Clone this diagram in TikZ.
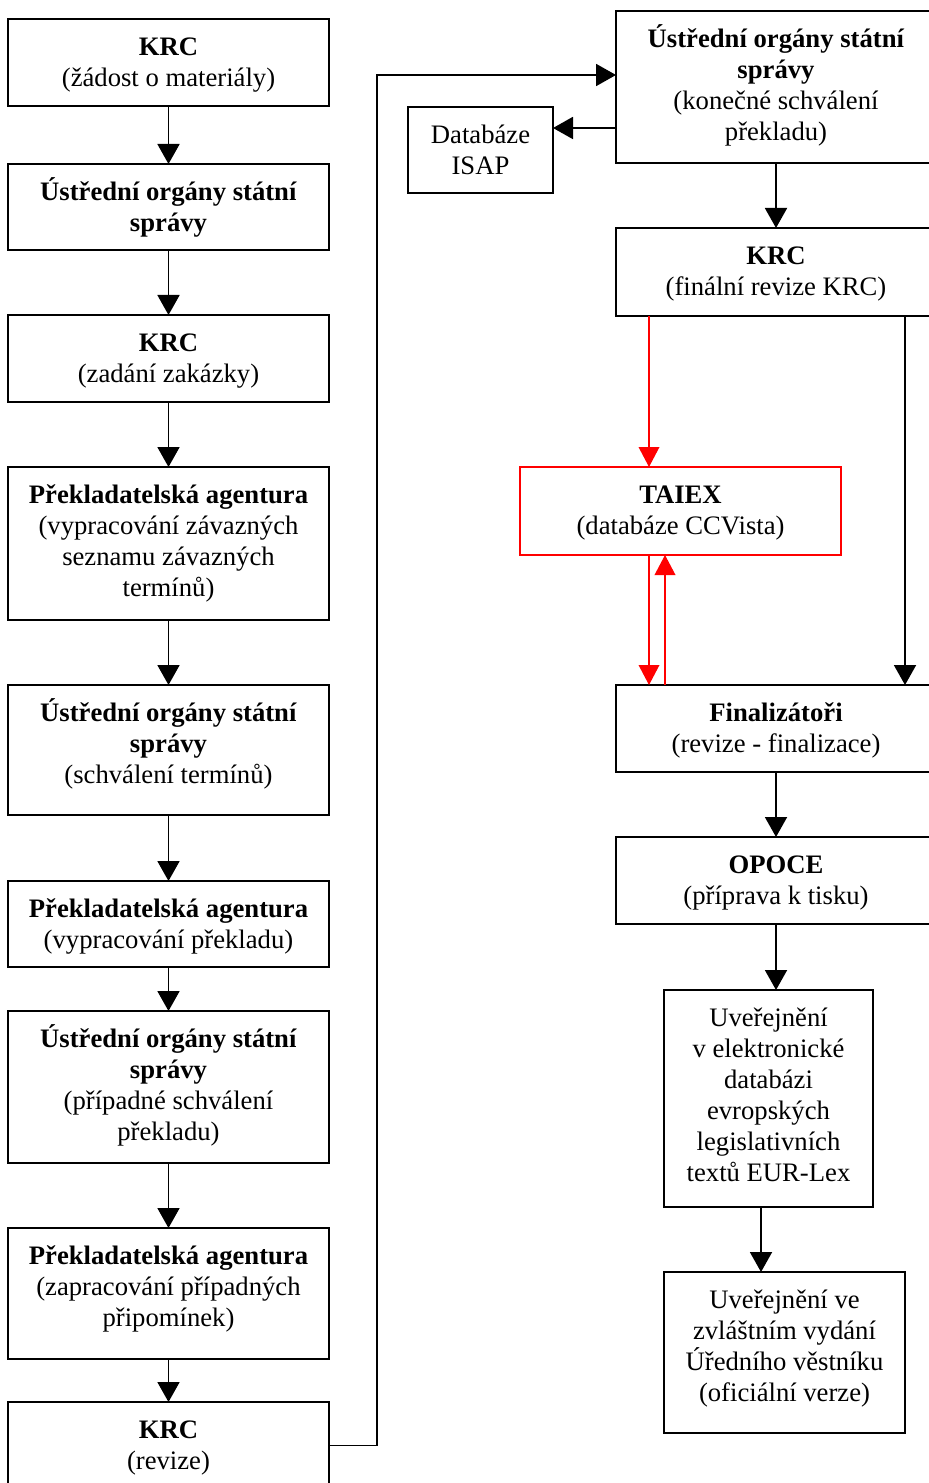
\documentclass[tikz,border=0pt]{standalone}
\usepackage{fontspec}
\setmainfont{Liberation Serif}
\usetikzlibrary{arrows.meta,calc}
\newcommand\bx[7]{%
  \node[#6, minimum width={(#4-#2)*0.75pt}, minimum height={(#5-#3)*0.75pt}, anchor=north west] (#1) at (#2,#3) {};
  \node[txt, anchor=north] (#1t) at ($(#1.north)+(0,11)$) {\rule{0pt}{19pt}#7};}
\begin{document}
\begin{tikzpicture}[x=0.75pt,y=-0.75pt,
  box/.style={draw,line width=1.4pt,inner sep=0pt,outer sep=0pt},
  rbox/.style={box,draw=red,line width=1.1pt},
  txt/.style={align=center,inner sep=0pt,font=\fontsize{20}{23.2}\selectfont},
  arr/.style={line width=1.4pt,-{Triangle[length=15pt,width=16.5pt]}},
  rarr/.style={line width=1.1pt,red,-{Triangle[length=15pt,width=15.5pt]}}]
\fill[white] (0,0) rectangle (928,1483);
\useasboundingbox (0,0) rectangle (928,1483);
% left column
\bx{a1}{8}{19}{329}{106}{box}{\textbf{KRC}\\(žádost o materiály)}
\bx{a2}{8}{164}{329}{250}{box}{\textbf{Ústřední orgány státní}\\\textbf{správy}}
\bx{a3}{8}{315}{329}{402}{box}{\textbf{KRC}\\(zadání zakázky)}
\bx{a4}{8}{467}{329}{620}{box}{\textbf{Překladatelská agentura}\\(vypracování závazných\\seznamu závazných\\termínů)}
\bx{a5}{8}{685}{329}{815}{box}{\textbf{Ústřední orgány státní}\\\textbf{správy}\\(schválení termínů)}
\bx{a6}{8}{881}{329}{967}{box}{\textbf{Překladatelská agentura}\\(vypracování překladu)}
\bx{a7}{8}{1011}{329}{1163}{box}{\textbf{Ústřední orgány státní}\\\textbf{správy}\\(případné schválení\\překladu)}
\bx{a8}{8}{1228}{329}{1359}{box}{\textbf{Překladatelská agentura}\\(zapracování případných\\připomínek)}
\bx{a9}{8}{1402}{329}{1489}{box}{\textbf{KRC}\\(revize)}
% right column
\bx{b1}{616}{11}{936}{163}{box}{\textbf{Ústřední orgány státní}\\\textbf{správy}\\(konečné schválení\\překladu)}
\bx{db}{408}{107}{553}{193}{box}{Databáze\\ISAP}
\bx{b2}{616}{228}{936}{316}{box}{\textbf{KRC}\\(finální revize KRC)}
\bx{ta}{520}{467}{841}{555}{rbox}{\textbf{TAIEX}\\(databáze CCVista)}
\bx{fi}{616}{685}{936}{772}{box}{\textbf{Finalizátoři}\\(revize - finalizace)}
\bx{op}{616}{837}{936}{924}{box}{\textbf{OPOCE}\\(příprava k tisku)}
\bx{e1}{664}{990}{873}{1207}{box}{Uveřejnění\\v elektronické\\databázi\\evropských\\legislativních\\textů EUR-Lex}
\bx{e2}{664}{1272}{905}{1433}{box}{Uveřejnění ve\\zvláštním vydání\\Úředního věstníku\\(oficiální verze)}
% left connectors
\draw[arr] (a1.south) -- (a2.north);
\draw[arr] (a2.south) -- (a3.north);
\draw[arr] (a3.south) -- (a4.north);
\draw[arr] (a4.south) -- (a5.north);
\draw[arr] (a5.south) -- (a6.north);
\draw[arr] (a6.south) -- (a7.north);
\draw[arr] (a7.south) -- (a8.north);
\draw[arr] (a8.south) -- (a9.north);
% long connector
\coordinate (bend) at (377,75);
\draw[arr] (a9.east) -| (bend) -- (bend -| b1.west);
% right connectors
\draw[arr] (b1.west |- 0,128) -- (db.east |- 0,128);
\draw[arr] (b1.south) -- (b2.north);
\draw[rarr] (b2.south -| 649,0) -- (ta.north -| 649,0);
\draw[arr] (b2.south -| 905,0) -- (fi.north -| 905,0);
\draw[rarr] (ta.south -| 649,0) -- (fi.north -| 649,0);
\draw[rarr] (fi.north -| 665,0) -- (ta.south -| 665,0);
\draw[arr] (fi.south) -- (op.north);
\draw[arr] (op.south) -- (op.south |- e1.north);
\draw[arr] (e1.south -| 761,0) -- (e2.north -| 761,0);
\end{tikzpicture}
\end{document}
